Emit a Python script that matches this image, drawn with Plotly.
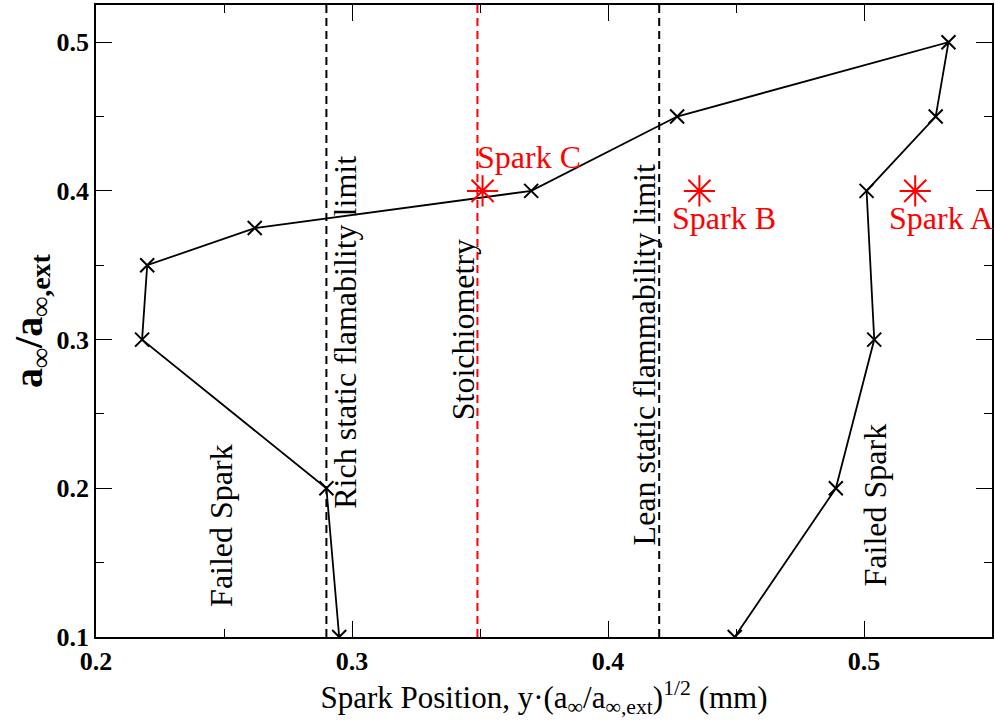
import plotly.graph_objects as go

# Ignition boundary traced by the spark-position sweep
boundary_x = [0.295, 0.290, 0.218, 0.220, 0.262, 0.370, 0.427, 0.533, 0.528, 0.501, 0.504, 0.489, 0.4495]
boundary_y = [0.10, 0.20, 0.30, 0.35, 0.375, 0.40, 0.45, 0.50, 0.45, 0.40, 0.30, 0.20, 0.10]

# Selected spark locations
spark_names = ["Spark A", "Spark B", "Spark C"]
spark_x = [0.520, 0.4357, 0.351]
spark_y = [0.40, 0.40, 0.40]
spark_label_x = [0.530, 0.4455, 0.369]
spark_label_y = [0.382, 0.382, 0.423]

# Reference positions (vertical lines)
rich_limit = 0.29
stoich = 0.349
lean_limit = 0.42

x_range = [0.2, 0.55]
y_range = [0.1, 0.525]
x_ticks = [0.2, 0.3, 0.4, 0.5]
y_ticks = [0.1, 0.2, 0.3, 0.4, 0.5]

# Rotated region labels: (text, x, y)
region_labels = [
    ("Failed Spark", 0.249, 0.175),
    ("Rich static flamability limit", 0.2975, 0.305),
    ("Stoichiometry", 0.3435, 0.3065),
    ("Lean static flammability limit", 0.4142, 0.2896),
    ("Failed Spark", 0.5041, 0.1888),
]

FONT = "Liberation Serif, Times New Roman, serif"

fig = go.Figure()

for xv, col in [(rich_limit, "black"), (stoich, "red"), (lean_limit, "black")]:
    fig.add_trace(go.Scatter(
        x=[xv, xv], y=y_range, mode="lines",
        line=dict(color=col, width=2, dash="8px,5px"),
        hoverinfo="skip", showlegend=False,
    ))

fig.add_trace(go.Scatter(
    x=boundary_x, y=boundary_y, mode="lines+markers",
    line=dict(color="black", width=1.8),
    marker=dict(symbol="x-thin-open", size=14, color="black",
                line=dict(color="black", width=2)),
    showlegend=False,
))

fig.add_trace(go.Scatter(
    x=spark_x, y=spark_y, mode="markers",
    marker=dict(symbol="asterisk-open", size=26, color="red",
                line=dict(color="red", width=2)),
    showlegend=False,
))

for name, lx, ly in zip(spark_names, spark_label_x, spark_label_y):
    fig.add_annotation(x=lx, y=ly, text=name, showarrow=False,
                       font=dict(family=FONT, size=32, color="red"))

for text, lx, ly in region_labels:
    fig.add_annotation(x=lx, y=ly, text=text, showarrow=False, textangle=-90,
                       font=dict(family=FONT, size=32, color="black"))

axis_common = dict(
    showgrid=False, zeroline=False, showline=True, linecolor="black", linewidth=1.5,
    mirror="ticks", ticks="inside", ticklen=16, tickwidth=1.3, tickcolor="black",
    tickfont=dict(family=FONT, size=26, color="black", weight="bold"),
)

fig.update_xaxes(
    range=x_range, tickvals=x_ticks, ticktext=[f"{v:.1f}" for v in x_ticks],
    minor=dict(ticks="inside", ticklen=8, dtick=0.05, tick0=0.2, tickcolor="black", tickwidth=1.3),
    title=dict(text="Spark Position, y·(a<sub>∞</sub>/a<sub>∞,ext</sub>)<sup>1/2</sup> (mm)",
               font=dict(family=FONT, size=31, color="black"), standoff=4),
    **axis_common,
)
fig.update_yaxes(
    range=y_range, tickvals=y_ticks, ticktext=[f"{v:.1f}" for v in y_ticks],
    minor=dict(ticks="inside", ticklen=8, dtick=0.05, tick0=0.1, tickcolor="black", tickwidth=1.3),
    title=dict(text="a<sub>∞</sub>/a<sub>∞,ext</sub>",
               font=dict(family=FONT, size=40, color="black", weight="bold"), standoff=2),
    **axis_common,
)

fig.update_layout(
    width=995, height=724,
    margin=dict(l=96, r=1, t=5, b=87),
    plot_bgcolor="white", paper_bgcolor="white",
    showlegend=False,
)

fig.write_html("out.html")
